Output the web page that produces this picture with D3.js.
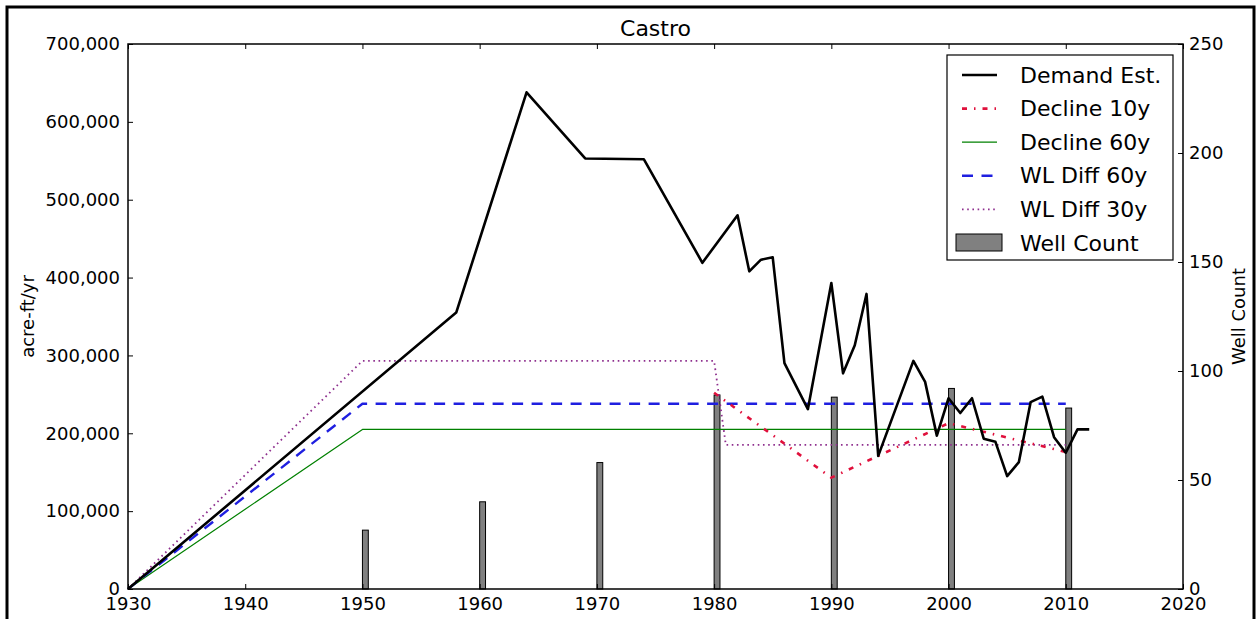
<!DOCTYPE html>
<html>
<head>
<meta charset="utf-8">
<script src="https://cdn.jsdelivr.net/npm/d3@7"></script>
<style>
  html, body { margin: 0; padding: 0; background: #fff; }
  svg { display: block; font-family: "DejaVu Sans", sans-serif; }
</style>
</head>
<body>
<svg id="chart" width="1257" height="619"></svg>
<script>
// ---------------- data ----------------
const chartTitle = "Castro";
const leftLabel = "acre-ft/yr";
const rightLabel = "Well Count";

const demandYears  = [1930, 1958, 1964, 1969, 1974, 1979, 1982, 1983, 1984, 1985, 1986, 1988, 1990, 1991, 1992, 1993, 1994, 1997, 1998, 1999, 2000, 2001, 2002, 2003, 2004, 2005, 2006, 2007, 2008, 2009, 2010, 2011, 2012];
const demandValues = [0, 355000, 638000, 553000, 552000, 419000, 480000, 408000, 423000, 426000, 290000, 231000, 393000, 277000, 313000, 379000, 171000, 293000, 266000, 197000, 245000, 226000, 245000, 193000, 189000, 145000, 163000, 240000, 247000, 195000, 175000, 205000, 205000];

const decline10Years  = [1980, 1990, 2000, 2010];
const decline10Values = [252000, 143000, 213000, 176000];

const decline60Years  = [1930, 1950, 2010];
const decline60Values = [0, 205000, 205000];

const wl60Years  = [1930, 1950, 2010];
const wl60Values = [0, 238000, 238000];

const wl30Years  = [1930, 1950, 1980, 1981, 2010];
const wl30Values = [0, 293000, 293000, 185000, 185000];

const wellYears  = [1950, 1960, 1970, 1980, 1990, 2000, 2010];
const wellCounts = [27, 40, 58, 89, 88, 92, 83];

const xTicks      = [1930, 1940, 1950, 1960, 1970, 1980, 1990, 2000, 2010, 2020];
const yLeftTicks  = [0, 100000, 200000, 300000, 400000, 500000, 600000, 700000];
const yRightTicks = [0, 50, 100, 150, 200, 250];

const legendLabels = ["Demand Est.", "Decline 10y", "Decline 60y", "WL Diff 60y", "WL Diff 30y", "Well Count"];

// ---------------- layout ----------------
const svg = d3.select("#chart");
const L = 128, R = 1183, T = 44, B = 589;

const x  = d3.scaleLinear().domain([1930, 2020]).range([L, R]);
const y  = d3.scaleLinear().domain([0, 700000]).range([B, T]);
const y2 = d3.scaleLinear().domain([0, 250]).range([B, T]);

// outer frame
svg.append("rect").attr("x", 7).attr("y", 7).attr("width", 1247).attr("height", 700)
  .attr("fill", "none").attr("stroke", "#000").attr("stroke-width", 3);

// bars (well count) on right scale
const barW = 0.5;
svg.append("g").selectAll("rect")
  .data(wellYears.map((yr, i) => [yr, wellCounts[i]]))
  .join("rect")
  .attr("x", d => x(d[0]))
  .attr("width", d => x(d[0] + barW) - x(d[0]))
  .attr("y", d => y2(d[1]))
  .attr("height", d => y2(0) - y2(d[1]))
  .attr("fill", "#808080")
  .attr("stroke", "#000")
  .attr("stroke-width", 1);

const line = d3.line().x(d => x(d[0])).y(d => y(d[1]));
const zip = (a, b) => a.map((v, i) => [v, b[i]]);

const styles = {
  demand:    { stroke: "#000000", width: 2.6, dash: null },
  decline10: { stroke: "#e0103c", width: 2.6, dash: "5,7,1.5,7" },
  decline60: { stroke: "#008000", width: 1.2, dash: null },
  wl60:      { stroke: "#1f1fe0", width: 2.4, dash: "11,8.5" },
  wl30:      { stroke: "#8e2f8e", width: 1.8, dash: "1.6,3.6" }
};

function drawLine(data, st) {
  const p = svg.append("path").datum(data)
    .attr("d", line)
    .attr("fill", "none")
    .attr("stroke", st.stroke)
    .attr("stroke-width", st.width)
    .attr("stroke-linejoin", "round");
  if (st.dash) p.attr("stroke-dasharray", st.dash);
}

drawLine(zip(decline60Years, decline60Values), styles.decline60);
drawLine(zip(wl60Years, wl60Values), styles.wl60);
drawLine(zip(wl30Years, wl30Values), styles.wl30);
drawLine(zip(decline10Years, decline10Values), styles.decline10);
drawLine(zip(demandYears, demandValues), styles.demand);

// axes
const fontSize = "18px";
function styleAxis(g) {
  g.select(".domain").remove();
  g.selectAll("text").attr("font-size", fontSize).attr("font-family", "DejaVu Sans").attr("fill", "#000");
  g.selectAll("line").attr("stroke", "#000").attr("stroke-width", 1);
}

svg.append("g").attr("transform", `translate(0,${B})`)
  .call(d3.axisBottom(x).tickValues(xTicks).tickFormat(d3.format("d")).tickSize(-5).tickPadding(8))
  .call(styleAxis);

svg.append("g").attr("transform", `translate(0,${T})`)
  .call(d3.axisTop(x).tickValues(xTicks).tickFormat("").tickSize(-5))
  .call(styleAxis);

svg.append("g").attr("transform", `translate(${L},0)`)
  .call(d3.axisLeft(y).tickValues(yLeftTicks).tickFormat(d3.format(",")).tickSize(-5).tickPadding(8))
  .call(styleAxis);

svg.append("g").attr("transform", `translate(${R},0)`)
  .call(d3.axisRight(y2).tickValues(yRightTicks).tickFormat(d3.format("d")).tickSize(-5).tickPadding(6))
  .call(styleAxis);

// plot frame
svg.append("rect").attr("x", L).attr("y", T).attr("width", R - L).attr("height", B - T)
  .attr("fill", "none").attr("stroke", "#000").attr("stroke-width", 1.5);

// title & labels
svg.append("text").attr("x", (L + R) / 2).attr("y", 36).attr("text-anchor", "middle")
  .attr("font-size", "22px").text(chartTitle);

svg.append("text").attr("transform", `translate(34,${(T + B) / 2}) rotate(-90)`)
  .attr("text-anchor", "middle").attr("font-size", fontSize).text(leftLabel);

svg.append("text").attr("transform", `translate(1245,${(T + B) / 2}) rotate(-90)`)
  .attr("text-anchor", "middle").attr("font-size", fontSize).text(rightLabel);

// legend
const lg = svg.append("g");
lg.append("rect").attr("x", 947).attr("y", 55).attr("width", 226).attr("height", 205)
  .attr("fill", "#fff").attr("stroke", "#000").attr("stroke-width", 1.2);
const legendStyles = [styles.demand, styles.decline10, styles.decline60, styles.wl60, styles.wl30, null];
legendLabels.forEach((lab, i) => {
  const cy = 75 + i * 33.6;
  const st = legendStyles[i];
  if (st) {
    const ln = lg.append("line").attr("x1", 962).attr("x2", 997).attr("y1", cy).attr("y2", cy)
      .attr("stroke", st.stroke).attr("stroke-width", st.width);
    if (st.dash) ln.attr("stroke-dasharray", st.dash);
  } else {
    lg.append("rect").attr("x", 956).attr("y", cy - 9).attr("width", 46).attr("height", 17)
      .attr("fill", "#808080").attr("stroke", "#000").attr("stroke-width", 1);
  }
  lg.append("text").attr("x", 1020).attr("y", cy + 7.5).attr("font-size", "22px").text(lab);
});
</script>
</body>
</html>
